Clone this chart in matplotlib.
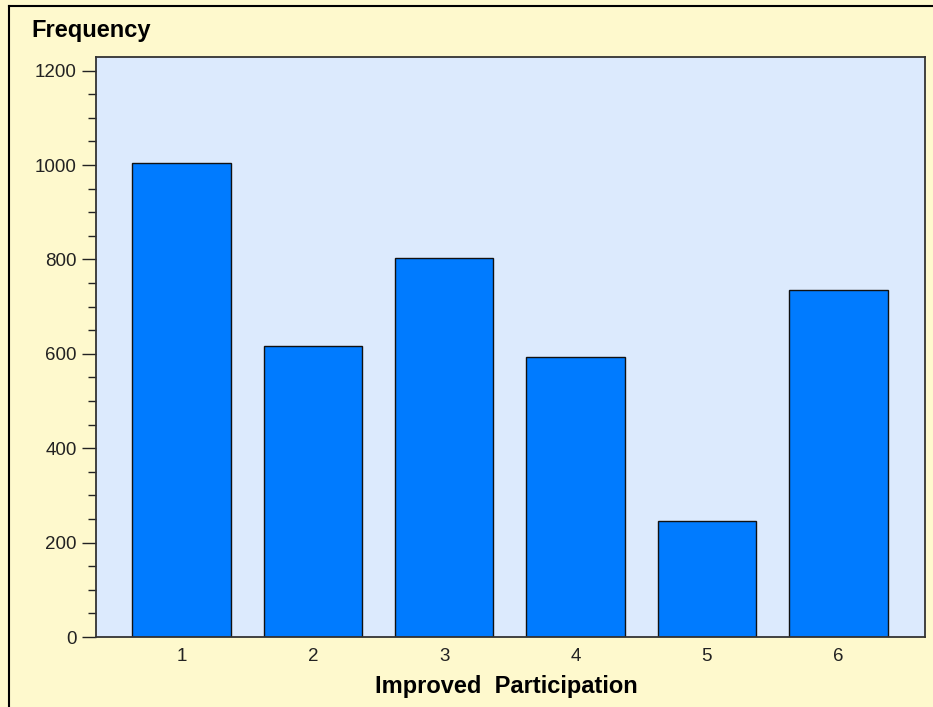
import matplotlib.pyplot as plt
from matplotlib.lines import Line2D
from matplotlib.ticker import MultipleLocator

categories = ['1', '2', '3', '4', '5', '6']
frequency = [1004, 617, 803, 593, 246, 735]

plt.rcParams['font.family'] = ['Liberation Sans', 'DejaVu Sans']

fig = plt.figure(figsize=(9.33, 7.07), dpi=100, facecolor='#fef9cd')
ax = fig.add_axes([96 / 933, 70 / 707, 829 / 933, 580 / 707])
ax.set_facecolor('#dceafd')

x = list(range(1, len(categories) + 1))
ax.bar(x, frequency, width=0.75, color='#007bff', edgecolor='#111111', linewidth=1.0, zorder=2)

ax.set_xlim(0.35, 6.66)
ax.set_ylim(0, 1229)
ax.set_xticks(x)
ax.set_xticklabels(categories)
ax.yaxis.set_major_locator(MultipleLocator(200))
ax.yaxis.set_minor_locator(MultipleLocator(50))

ax.tick_params(axis='x', length=0, pad=8, labelsize=13.5, colors='#222222')
ax.tick_params(axis='y', which='major', length=10, width=1, pad=4, labelsize=13.5, colors='#222222')
ax.tick_params(axis='y', which='minor', length=6, width=1, colors='#222222')

for s in ax.spines.values():
    s.set_color('#333333')
    s.set_linewidth(1.3)

ax.set_xlabel('Improved  Participation', fontsize=17, fontweight='bold', labelpad=7)
ax.xaxis.label.set_x(0.495)
fig.text(31 / 933, 1 - 37 / 707, 'Frequency', fontsize=17, fontweight='bold', va='baseline', ha='left')

# outer frame (only left and top edges visible)
fig.add_artist(Line2D([8.5 / 933, 8.5 / 933], [0, 1 - 5.5 / 707], transform=fig.transFigure, color='black', lw=1.5))
fig.add_artist(Line2D([8.5 / 933, 1], [1 - 5.5 / 707, 1 - 5.5 / 707], transform=fig.transFigure, color='black', lw=1.5))

fig.savefig('out.png', dpi=100, facecolor=fig.get_facecolor())
